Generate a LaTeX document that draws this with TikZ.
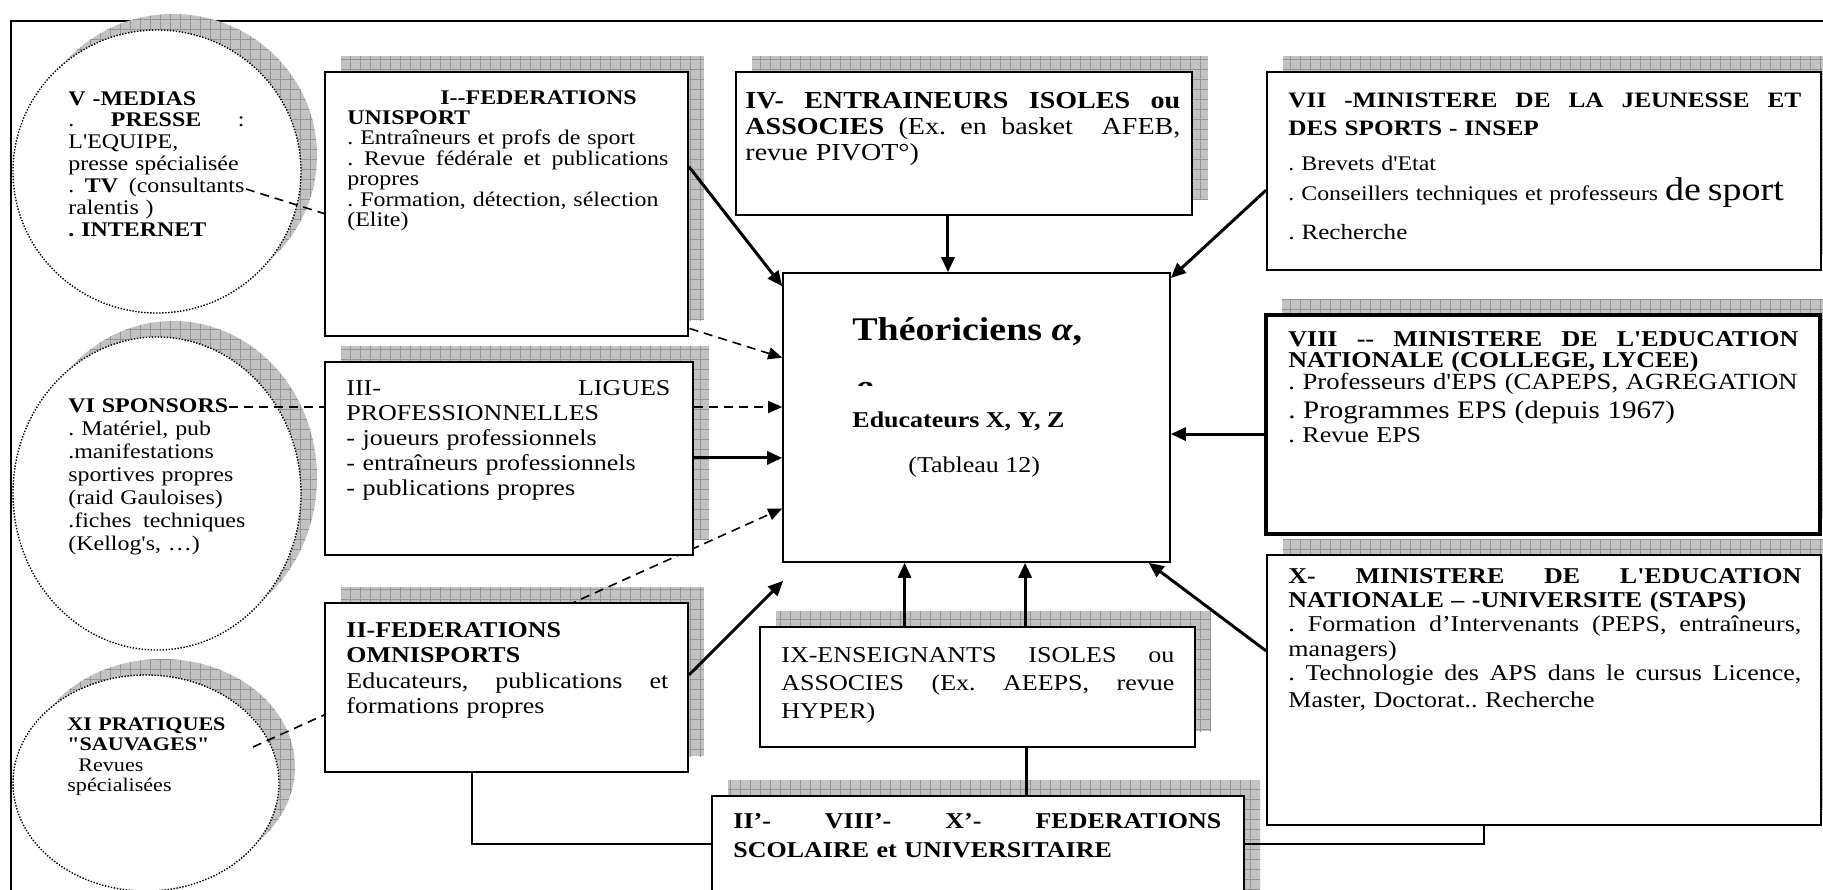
\documentclass[tikz,border=0pt]{standalone}
\usepackage{fontspec}
\newfontfamily\tnr{Liberation Serif}[FakeStretch=1.15]
\usetikzlibrary{arrows.meta,shapes.geometric,patterns.meta,calc,fit}
\newcommand\jl[1]{\makebox[\hsize][s]{\spaceskip=0pt\xspaceskip=0pt\relax #1}}
\newcommand\fs[2]{\fontsize{#1}{#2}\selectfont}
\lineskiplimit=-100pt
\frenchspacing
\begin{document}
\begin{tikzpicture}[x=0.5pt,y=-0.5pt,
  shd/.style={fill=black!24, postaction={pattern={Hatch[distance=5pt,line width=0.3pt]}, pattern color=black!42}},
  boxst/.style={draw, line width=1pt, fill=white, inner sep=0pt},
  circ/.style={ellipse, draw, line width=0.7pt, dash pattern=on 0.7pt off 0.8pt, fill=white, inner sep=0pt},
  txt/.style={anchor=base west, inner sep=0pt, align=left},
  arr/.style={line width=1.5pt, -{Triangle[length=7.5pt,width=6.5pt]}},
  dsharr/.style={line width=0.8pt, dash pattern=on 4.5pt off 3pt, -{Triangle[length=7pt,width=6pt]}},
  ln/.style={line width=1pt},
  lnthick/.style={line width=1.5pt}]
\useasboundingbox (0,0) rectangle (1823,889);
\fill[white] (0,0) rectangle (1823,889);
\clip (0,0) rectangle (1823,889);
% outer frame
\draw[line width=0.7pt] (11,900) -- (11,21) -- (1830,21);
% shadows
\path[shd] (173,155.5) ellipse [x radius=72pt, y radius=70.75pt];
\path[shd] (173,477.5) ellipse [x radius=72pt, y radius=78.25pt];
\path[shd] (162,767) ellipse [x radius=66.5pt, y radius=54pt];
\path[shd] (341,56) rectangle (704,320);
\path[shd] (752,56) rectangle (1208,199);
\path[shd] (1283,56) rectangle (1840,254);
\path[shd] (341,346) rectangle (709,539);
\path[shd] (1282,299) rectangle (1840,518);
\path[shd] (341,587) rectangle (704,756);
\path[shd] (776,611) rectangle (1211,731);
\path[shd] (1283,539) rectangle (1840,809);
\path[shd] (728,780) rectangle (1260,905);
% circles
\node[circ, minimum width=144pt, minimum height=141.5pt] (cV) at (157,171.5) {};
\node[circ, minimum width=144pt, minimum height=156.5pt] (cVI) at (157,493.5) {};
\node[circ, minimum width=133pt, minimum height=108pt] (cXI) at (146,783) {};
% centre box
\node[boxst, line width=0.8pt, fit={(783,273) (1170,562)}] (C) {};
% dashed links (under the boxes)
\coordinate (dV) at (246,189);
\coordinate (dVI) at (229,407);
\coordinate (dXI) at (253,747);
\draw[dsharr] (dV) -- ($(C.north west)!0.294!(C.south west)$);
\draw[dsharr] (dVI) -- (dVI -| C.west);
\draw[dsharr] (dXI) -- ($(C.north west)!0.813!(C.south west)$);
% boxes
\node[boxst, fit={(325,72) (688,336)}] (bI) {};
\node[boxst, fit={(736,72) (1192,215)}] (bIV) {};
\node[boxst, fit={(1267,72) (1821,270)}] (bVII) {};
\node[boxst, fit={(325,362) (693,555)}] (bIII) {};
\node[boxst, line width=1.7pt, fit={(1266,315) (1820,534)}] (bVIII) {};
\node[boxst, fit={(325,603) (688,772)}] (bII) {};
\node[boxst, fit={(760,627) (1195,747)}] (bIX) {};
\node[boxst, fit={(1267,555) (1821,825)}] (bX) {};
\node[boxst, fit={(712,796) (1244,905)}] (bF) {};
% solid arrows
\draw[arr] ($(bI.north east)!0.36!(bI.south east)$) -- ($(C.north west)!0.048!(C.south west)$);
\coordinate (pIV) at ($(bIV.south west)!0.465!(bIV.south east)$);
\draw[arr] (pIV) -- (pIV |- C.north);
\draw[arr] ($(bVII.north west)!0.596!(bVII.south west)$) -- ($(C.north east)!0.02!(C.south east)$);
\coordinate (pVIII) at ($(bVIII.north west)!0.543!(bVIII.south west)$);
\draw[arr] (pVIII) -- (pVIII -| C.east);
\draw[arr] ($(bX.north west)!0.356!(bX.south west)$) -- ($(C.south west)!0.943!(C.south east)$);
\coordinate (pIXa) at ($(bIX.north west)!0.333!(bIX.north east)$);
\coordinate (pIXb) at ($(bIX.north west)!0.609!(bIX.north east)$);
\draw[arr] (pIXa) -- (pIXa |- C.south);
\draw[arr] (pIXb) -- (pIXb |- C.south);
\coordinate (tII) at ($(C.south west)+(1,18)$);
\draw[arr] ($(bII.north east)!0.426!(bII.south east)$) -- (tII);
\coordinate (pIII) at ($(bIII.north east)!0.497!(bIII.south east)$);
\draw[arr] (pIII) -- (pIII -| C.west);
% plain links to the bottom box
\coordinate (fL) at ($(bF.north west)!0.44!(bF.south west)$);
\coordinate (fR) at ($(bF.north east)!0.44!(bF.south east)$);
\coordinate (pIIb) at ($(bII.south west)!0.405!(bII.south east)$);
\coordinate (pXb) at ($(bX.south west)!0.392!(bX.south east)$);
\coordinate (pIXc) at ($(bIX.south west)!0.611!(bIX.south east)$);
\draw[ln] (pIIb) |- (fL);
\draw[ln] (pXb) |- (fR);
\draw[lnthick] (pIXc) -- (pIXc |- bF.north);
% texts in circles
\node[txt, text width=88pt, font=\tnr\fs{10.4}{10.95}] (tV) at (68,105)
 {\textbf{V -MEDIAS}\\ \jl{. \textbf{PRESSE} :}\\ L'EQUIPE,\\ presse spécialisée\\ \jl{. \textbf{TV} (consultants}\\ ralentis )\\ \textbf{. INTERNET}};
\node[txt, text width=88.5pt, font=\tnr\fs{10.4}{11.5}] (tVI) at (68,412)
 {\textbf{VI SPONSORS}\\ . Matériel, pub\\ .manifestations\\ sportives propres\\ (raid Gauloises)\\ \jl{.fiches techniques}\\ (Kellog's, …)};
\node[txt, text width=80pt, font=\tnr\fs{9.6}{10.3}] (tXI) at (67,730)
 {\textbf{XI PRATIQUES}\\ \textbf{"SAUVAGES"}\\ \hspace*{5.5pt}Revues\\ spécialisées};
% texts in boxes
\node[txt, text width=160.5pt, font=\tnr\fs{10.4}{10.2}] (tI) at (347,104)
 {\hspace*{46.5pt}\textbf{I--FEDERATIONS}\\ \textbf{UNISPORT}\\ . Entraîneurs et profs de sport\\ \jl{. Revue fédérale et publications}\\ propres\\ . Formation, détection, sélection\\ (Elite)};
\node[txt, text width=217.5pt, font=\tnr\fs{12.2}{13}] (tIV) at (745,108)
 {\jl{\textbf{IV- ENTRAINEURS ISOLES ou}}\\ \jl{\textbf{ASSOCIES} (Ex. en basket\ \ AFEB,}\\ revue PIVOT°)};
\node[txt, text width=256.5pt, font=\tnr\fs{10.4}{14}] (tVII) at (1288,107)
 {{\fs{11}{14}\jl{\textbf{VII -MINISTERE DE LA JEUNESSE ET}}}\\ {\fs{11}{14}\textbf{DES SPORTS - INSEP}}\\[3.5pt] . Brevets d'Etat\\[1pt] . Conseillers techniques et professeurs {\fs{16.5}{14}de sport}\\[5.5pt] {\fs{10.9}{14}. Recherche}};
\node[txt, text width=162pt, font=\tnr\fs{11.3}{12.6}] (tIII) at (346,395)
 {\jl{III- LIGUES}\\ PROFESSIONNELLES\\ - joueurs professionnels\\ - entraîneurs professionnels\\ - publications propres};
\node[txt, text width=255pt, font=\tnr\fs{11.3}{10.5}] (tVIII) at (1288,346)
 {\jl{\textbf{VIII -- MINISTERE DE L'EDUCATION}}\\ \textbf{NATIONALE (COLLEGE, LYCEE)}\\[-0.5pt] {\fs{11.6}{10.5}. Professeurs d'EPS (CAPEPS, AGREGATION}\\[2.25pt] {\fs{12.6}{10.5}. Programmes EPS (depuis 1967)}\\[1.75pt] . Revue EPS};
\node[txt, text width=161pt, font=\tnr\fs{11.3}{12.8}] (tII) at (346,637)
 {\textbf{II-FEDERATIONS}\\ \textbf{OMNISPORTS}\\ \jl{Educateurs, publications et}\\ formations propres};
\node[txt, text width=196.5pt, font=\tnr\fs{11.3}{14}] (tIX) at (781,662)
 {\jl{IX-ENSEIGNANTS ISOLES ou}\\ \jl{ASSOCIES (Ex. AEEPS, revue}\\ HYPER)};
\node[txt, text width=256.5pt, font=\tnr\fs{11.3}{12.2}] (tX) at (1288,583)
 {\jl{\textbf{X- MINISTERE DE L'EDUCATION}}\\ \textbf{NATIONALE – -UNIVERSITE (STAPS)}\\ \jl{. Formation d’Intervenants (PEPS, entraîneurs,}\\ managers)\\ \jl{. Technologie des APS dans le cursus Licence,}\\[1pt] Master, Doctorat.. Recherche};
\node[txt, text width=244pt, font=\tnr\fs{11.3}{14.5}\bfseries] (tF) at (733,828)
 {\jl{II’- VIII’- X’- FEDERATIONS}\\ SCOLAIRE et UNIVERSITAIRE};
% centre texts
\node[txt, font=\tnr\fs{16.5}{18}\bfseries] (tC1) at (852,340) {Théoriciens \textit{α},};
\begin{scope}
\clip (840,370) rectangle (900,385);
\node[txt, font=\tnr\fs{16.5}{18}\bfseries] (tC1b) at (853,405) {\textit{β}};
\end{scope}
\node[txt, font=\tnr\fs{11.3}{13}\bfseries] (tC2) at (852,427) {Educateurs X, Y, Z};
\node[txt, font=\tnr\fs{11.3}{13}] (tC3) at (908,472) {(Tableau 12)};
\end{tikzpicture}
\end{document}
